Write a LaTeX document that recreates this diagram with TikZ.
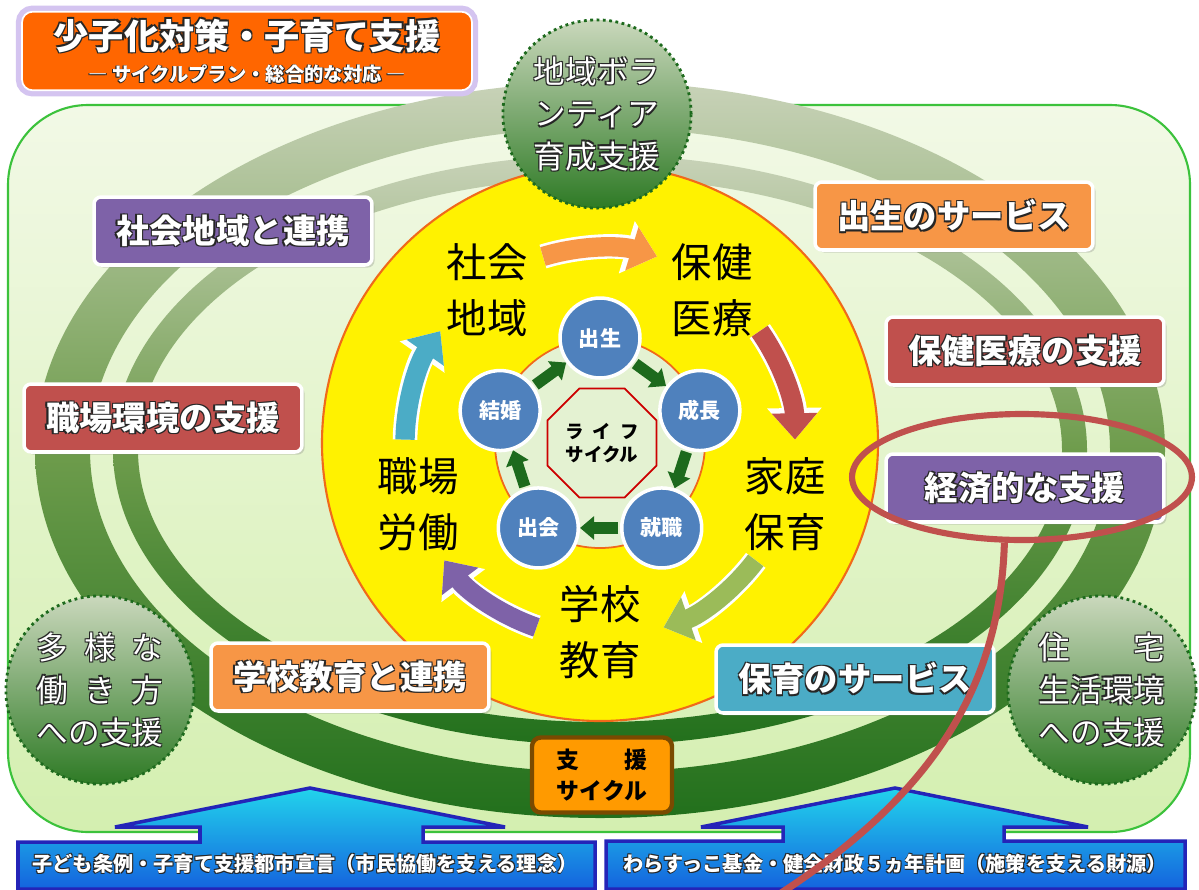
\documentclass[tikz,border=0pt]{standalone}
\usepackage{fontspec}
\setmainfont{Noto Sans CJK JP}
\usetikzlibrary{arrows.meta,shapes.geometric,shadows}

\definecolor{purpbox}{HTML}{7E62A8}
\definecolor{redbox}{HTML}{C0504D}
\definecolor{orgbox}{HTML}{F79646}
\definecolor{bluebox}{HTML}{4BACC6}
\definecolor{olivearr}{HTML}{9BBB59}
\definecolor{lifeblue}{HTML}{4F81BD}
\definecolor{ringtop}{HTML}{C8D2B8}
\definecolor{ringmid}{HTML}{6E9C4C}
\definecolor{ringbot}{HTML}{22701C}
\definecolor{framegreen}{HTML}{3CC23C}
\definecolor{frametop}{HTML}{F2F9E6}
\definecolor{framebot}{HTML}{D4EFB0}
\definecolor{titleorg}{HTML}{FF6600}
\definecolor{lavender}{HTML}{D4C4F0}
\definecolor{bannertop}{HTML}{22D4EC}
\definecolor{bannerbot}{HTML}{1463DE}
\definecolor{bannerline}{HTML}{2424B8}
\definecolor{markred}{HTML}{C0504D}
\definecolor{paleleaf}{HTML}{E4F2D2}
\definecolor{arrowgreen}{HTML}{1D6A1D}
\definecolor{discedge}{HTML}{F06A1A}
\definecolor{badgetop}{HTML}{CAD8BC}
\definecolor{badgebot}{HTML}{2E7A25}
\definecolor{cycleorg}{HTML}{FF9A00}
\definecolor{cyclebrown}{HTML}{7A4A00}

\newcommand\outl[1]{\leavevmode
	\rlap{\textcolor{black!85}{\kern.035em\raisebox{-.035em}{#1}}}%
	\rlap{\textcolor{black!85}{\kern-.035em\raisebox{.035em}{#1}}}%
	\rlap{\textcolor{black!85}{\kern.035em\raisebox{.035em}{#1}}}%
	\rlap{\textcolor{black!85}{\kern-.035em\raisebox{-.035em}{#1}}}%
	#1}

\tikzset{
	panel/.style={rectangle, rounded corners=4pt, minimum width=5.56cm, minimum height=1.36cm,
		draw=white, line width=2pt, text=white, font=\bfseries\fontsize{19}{23}\selectfont,
		drop shadow={shadow xshift=1.5pt, shadow yshift=-1.5pt, opacity=.3}},
	stage/.style={align=center, text=black, font=\fontsize{23}{32}\selectfont},
	lifenode/.style={circle, fill=lifeblue, draw=white, line width=2pt, minimum size=1.6cm,
		inner sep=0pt, text=white, font=\bfseries\fontsize{12}{14}\selectfont},
	lcarrow/.style={draw=arrowgreen, line width=6.5pt, -{Triangle[width=13pt,length=8pt]},
		shorten <=1pt, shorten >=0pt},
	cyc/.style={line width=11pt, -{Triangle[width=25pt,length=15pt]},
		preaction={draw=white, line width=14pt, -{Triangle[width=30pt,length=18pt]}}},
	badge/.style={circle, minimum size=#1, top color=badgetop, bottom color=badgebot,
		draw=arrowgreen, dotted, line width=1.6pt, text=white, align=center,
		font=\fontsize{18}{24}\selectfont},
	ring/.style={even odd rule, top color=ringtop, bottom color=ringbot, middle color=ringmid},
	banner/.style={top color=bannertop, bottom color=bannerbot, draw=bannerline, line width=2pt},
	bannertext/.style={text=white, font=\bfseries\fontsize{11.5}{14}\selectfont}
}

\begin{document}
\begin{tikzpicture}[x=0.02cm, y=0.02cm]
	\useasboundingbox (0,0) rectangle (1199,-889);
	\clip (0,0) rectangle (1199,-889);
	\fill[white] (0,0) rectangle (1199,-889);
	
	\draw[rounded corners=1.6cm, draw=framegreen, line width=1.2pt, top color=frametop, bottom color=framebot]
		(8,-105) rectangle (1190,-832);
	
	\coordinate (mid) at (600,-450);
	\shade[ring] (mid) ellipse[x radius=565, y radius=368] (mid) ellipse[x radius=510, y radius=322];
	\shade[ring] (mid) ellipse[x radius=487, y radius=295] (mid) ellipse[x radius=462, y radius=272];
	
	\coordinate (lc) at (600,-443);
	\draw[fill=yellow, draw=discedge, line width=1.2pt] (lc) circle[radius=278];
	
	\node[badge=3.6cm] (volunteer) at (597,-114)
		{\outl{地域ボラ}\\\outl{ンティア}\\\outl{育成支援}};
	
	\draw[draw=discedge, fill=paleleaf, line width=1pt] (lc) circle[radius=105];
	\node[regular polygon, regular polygon sides=8, minimum size=2.36cm, inner sep=0pt, draw=red!80!black,
		line width=1pt, fill=paleleaf, align=center, font=\bfseries\fontsize{10.5}{13}\selectfont] (lifecycle)
		at (602,-443) {\makebox[4em][s]{ラ\hfill イ\hfill フ}\\サイクル};
	
	\foreach \n/\a/\t in {birth/90/出生, growth/18/成長, job/-54/就職, meet/-126/出会, marry/162/結婚}{
		\node[lifenode] (\n) at ([shift={(\a:105)}]lc) {\t};
	}
	\foreach \a/\b in {birth/growth, growth/job, job/meet, meet/marry, marry/birth}{
		\draw[lcarrow] (\a) -- (\b);
	}
	
	\foreach \m/\c in {90/orgbox, 18/redbox, -54/olivearr, -126/purpbox, 162/bluebox}{
		\draw[cyc, draw=\c] ([shift={(\m+17:195)}]lc) arc[start angle=\m+17, end angle=\m-17, radius=195];
	}
	
	\node[stage] (soc) at (487,-290) {社会\\地域};
	\node[stage] (med) at (712,-290) {保健\\医療};
	\node[stage] (home) at (785,-504) {家庭\\保育};
	\node[stage] (school) at (600,-632) {学校\\教育};
	\node[stage] (work) at (418,-504) {職場\\労働};
	
	\foreach \name/\x/\y/\col/\txt in {social/233/-231/purpbox/社会地域と連携,
		workplace/163/-418/redbox/職場環境の支援,
		schoolsv/350/-677/orgbox/学校教育と連携,
		birthsv/954/-216/orgbox/出生のサービス,
		health/1025/-351/redbox/保健医療の支援,
		economy/1025/-488/purpbox/経済的な支援,
		nursery/855/-679/bluebox/保育のサービス}{
		\node[panel, fill=\col] (\name) at (\x,\y) {\outl{\txt}};
	}
	
	\node[badge=3.7cm] (workstyle) at (100,-690)
		{\outl{\makebox[4em][s]{多\hfill 様\hfill な}}\\\outl{\makebox[4em][s]{働\hfill き\hfill 方}}\\\outl{への支援}};
	\node[badge=3.7cm] (housing) at (1102,-690)
		{\outl{\makebox[4em][s]{住\hfill 宅}}\\\outl{生活環境}\\\outl{への支援}};
	
	\node[rectangle, rounded corners=5pt, minimum width=2.8cm, minimum height=1.5cm, fill=cycleorg,
		draw=cyclebrown, line width=2.5pt, align=center, font=\bfseries\fontsize{13}{18}\selectfont] (cycle)
		at (602,-775) {\makebox[4em][s]{支\hfill 援}\\サイクル};
	
	\draw[banner] (18,-842) -- (200,-842) -- (200,-827) -- (115,-827) -- (310,-788) -- (505,-827)
		-- (423,-827) -- (423,-842) -- (595,-842) -- (595,-889) -- (18,-889) -- cycle;
	\draw[banner] (606,-841) -- (783,-841) -- (783,-827) -- (701,-827) -- (895,-788) -- (1088,-827)
		-- (1004,-827) -- (1004,-841) -- (1185,-841) -- (1185,-889) -- (606,-889) -- cycle;
	\node[bannertext] (creed) at (305,-864) {\outl{子ども条例・子育て支援都市宣言（市民協働を支える理念）}};
	\node[bannertext] (fund) at (895,-864) {\outl{わらすっこ基金・健全財政５ヵ年計画（施策を支える財源）}};
	
	\node[rectangle, rounded corners=6pt, minimum width=9cm, minimum height=1.48cm, fill=titleorg,
		draw=white, line width=1pt, preaction={draw=lavender, line width=7pt}, align=center,
		text=white, font=\bfseries] (title) at (247,-51)
		{\fontsize{20}{24}\selectfont\outl{少子化対策・子育て支援}\\[5pt]
		 \fontsize{11}{13}\selectfont\outl{― サイクルプラン・総合的な対応 ―}};
	
	\node[ellipse, draw=markred, line width=3.5pt, minimum width=6.8cm, minimum height=2.52cm] (mark) at (1022,-477) {};
	\coordinate (tail) at (778,-895);
	\draw[markred, line width=4pt] (mark.-105) .. controls (1000,-680) and (940,-790) .. (tail);
\end{tikzpicture}
\end{document}
